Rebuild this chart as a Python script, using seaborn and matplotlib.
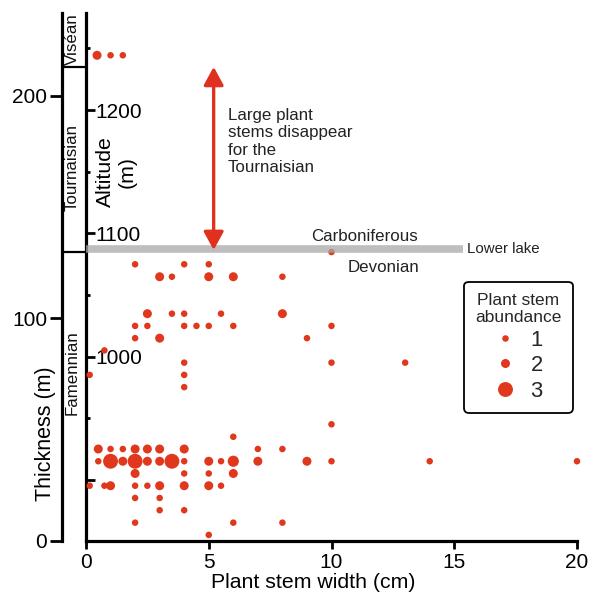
import numpy as np
import pandas as pd
import matplotlib
matplotlib.use("Agg")
import matplotlib.pyplot as plt
import seaborn as sns
from matplotlib.lines import Line2D

# ---------------- data ----------------
# one line per stratigraphic level: stem widths (cm), thickness (m), abundance class
stem_width = (
    [0.45, 1, 1.5] +
    [10] +
    [2, 4, 5] +
    [3, 3.5, 5, 6, 8] +
    [2.5, 3.5, 4, 5.5, 8] +
    [2, 2.5, 4, 4.5, 5, 6, 10] +
    [2, 3, 9] +
    [0.75] +
    [4, 10, 13] +
    [0.15, 4] +
    [4] +
    [10] +
    [6] +
    [0.5, 1, 1.5, 2, 2.5, 3, 4, 7, 8] +
    [0.5, 1, 1.5, 2, 2.5, 3, 3.5, 4, 5, 5.5, 6, 7, 9, 10, 14, 20] +
    [2, 4, 5, 6] +
    [0.15, 0.75, 1, 2, 2.5, 3, 4, 5, 5.5] +
    [2, 3] +
    [3, 4] +
    [2, 6, 8] +
    [5]
)
thickness = (
    [218.1] * 3 +
    [129.7] * 1 +
    [124.2] * 3 +
    [118.6] * 5 +
    [102.0] * 5 +
    [96.5] * 7 +
    [91.0] * 3 +
    [85.5] * 1 +
    [80.0] * 3 +
    [74.5] * 2 +
    [69.0] * 1 +
    [52.3] * 1 +
    [46.7] * 1 +
    [41.2] * 9 +
    [35.7] * 16 +
    [30.2] * 4 +
    [24.7] * 9 +
    [19.2] * 2 +
    [13.7] * 2 +
    [8.1] * 3 +
    [2.6] * 1
)
abundance = (
    [2, 1, 1] +
    [1] +
    [1, 1, 1] +
    [2, 1, 2, 2, 1] +
    [2, 1, 1, 1, 2] +
    [1, 1, 1, 1, 1, 1, 1] +
    [1, 2, 1] +
    [1] +
    [1, 1, 1] +
    [1, 1] +
    [1] +
    [1] +
    [1] +
    [2, 1, 1, 2, 2, 2, 2, 1, 1] +
    [1, 3, 2, 3, 2, 2, 3, 1, 2, 1, 2.5, 2, 2, 1, 1, 1] +
    [2, 1, 1, 2] +
    [1, 1, 2, 1, 1, 2, 2, 2, 1] +
    [1, 1] +
    [1, 1] +
    [1, 1, 1] +
    [1]
)

x_ticks = [0, 5, 10, 15, 20]
thickness_ticks = [0, 100, 200]
altitude_major = [900, 1000, 1100, 1200]
altitude_labels = ["", "1000", "1100", "1200"]
altitude_minor = [950, 1050, 1150, 1250]
legend_levels = [1, 2, 3]

# stratigraphic boundaries (thickness, m)
visean_base = 212.9
carboniferous_base = 129.7
lower_lake = 130.9
lower_lake_end = 15.35  # cm axis extent of the lake bar

# ---------------- styling ----------------
sns.set_theme(style="white")
plt.rcParams['font.family'] = ['Liberation Sans', 'DejaVu Sans']

RED = "#e0381c"
size_map = {1: 22, 2: 42, 2.5: 65, 3: 115}

W, H = 591, 595
fig = plt.figure(figsize=(W / 100, H / 100), dpi=100)
L, R, B, T = 86, 577, 540.7, 13
ax = fig.add_axes([L / W, 1 - B / H, (R - L) / W, (B - T) / H])


def fpx(x, y):
    """figure-pixel (top-left origin) -> figure fraction"""
    return x / W, 1 - y / H


df = pd.DataFrame({"width": stem_width, "thickness": thickness,
                   "abundance": abundance})
sns.scatterplot(data=df, x="width", y="thickness", size="abundance",
                sizes=size_map, color=RED, linewidth=0, legend=False,
                ax=ax, zorder=3, clip_on=False)

ax.set_xlim(0, 20)
ax.set_ylim(0, 237.1)
for s in ["top", "right", "left"]:
    ax.spines[s].set_visible(False)
ax.spines["bottom"].set_linewidth(2.3)
ax.spines["bottom"].set_color("black")
ax.set_xticks(x_ticks)
ax.tick_params(axis="x", direction="out", length=6, width=2, labelsize=15,
               pad=2.5, colors="black", bottom=True)
ax.tick_params(axis="y", left=False, labelleft=False)
ax.set_xlabel("Plant stem width (cm)", fontsize=15.3, color="black")
ax.xaxis.set_label_coords((313.3 - L) / (R - L), (B - 573) / (B - T))
ax.set_ylabel("")

# altitude axis (on the plot's left edge, labels inside)
t0, k = 82.66, 1.8046


def t2a(t):
    return 1000 + (np.asarray(t) - t0) * k


def a2t(a):
    return t0 + (np.asarray(a) - 1000) / k


alt = ax.secondary_yaxis(0, functions=(t2a, a2t))
alt.set_alignment("right")
alt.spines["right"].set_linewidth(2.3)
alt.spines["right"].set_color("black")
alt.set_ticks(altitude_major, labels=altitude_labels)
alt.set_ticks(altitude_minor, minor=True)
alt.tick_params(axis="y", which="major", direction="out", length=6.5,
                width=2, labelsize=15, pad=0.5, colors="black")
alt.tick_params(axis="y", which="minor", direction="out", length=3.2,
                width=2, colors="black")

# thickness axis (outer left)
col_x = (62 - L) / (R - L)
thick = ax.secondary_yaxis(col_x, functions=(lambda t: t, lambda t: t))
thick.spines["left"].set_linewidth(2.3)
thick.spines["left"].set_color("black")
thick.set_ticks(thickness_ticks)
thick.tick_params(axis="y", direction="out", length=8.6, width=2,
                  labelsize=15, pad=2, colors="black")

# stage column
ytr = ax.get_yaxis_transform()
for yb in (visean_base, carboniferous_base):
    ax.plot([col_x, 0], [yb, yb], transform=ytr, color="black", lw=1.6,
            clip_on=False, solid_capstyle="butt")
for name, (px_, py_) in zip(["Viséan", "Tournaisian", "Famennian"],
                            [(72.5, 39), (72.5, 167.5), (72.5, 372.5)]):
    fig.text(*fpx(px_, py_), name, rotation=90, ha="center", va="center",
             fontsize=12.2, color="#111111")

# axis titles
fig.text(*fpx(46, 434), "Thickness (m)", rotation=90, ha="center",
         va="center", fontsize=15.5, color="black")
fig.text(*fpx(116, 172), "Altitude\n(m)", rotation=90, ha="center",
         va="center", fontsize=15.3, multialignment="center", color="black")

# lower lake band
ax.plot([0, lower_lake_end], [lower_lake, lower_lake], color="#a8a8a8",
        alpha=0.75, lw=5.5, solid_capstyle="butt", zorder=4)
ax.text(15.53, lower_lake, "Lower lake", fontsize=10.8, ha="left",
        va="center", color="#222222")
ax.text(9.19, 134.8, "Carboniferous", fontsize=12.2, ha="left",
        va="baseline", color="#222222")
ax.text(10.66, 120.6, "Devonian", fontsize=12.2, ha="left",
        va="baseline", color="#222222")

# arrow + note
ax.annotate("", xy=(5.2, 130.6), xytext=(5.2, visean_base),
            arrowprops=dict(arrowstyle="<|-|>,head_length=0.55,head_width=0.3",
                            mutation_scale=20, lw=2.4, color="#e0301e",
                            shrinkA=0, shrinkB=0), zorder=5)
ax.text(5.77, 194.4, "Large plant\nstems disappear\nfor the\nTournaisian",
        fontsize=12.2, ha="left", va="top", linespacing=1.2,
        color="#222222")

# legend
handles = [Line2D([], [], ls="none", marker="o", ms=np.sqrt(size_map[v]),
                  mfc=RED, mec="none") for v in legend_levels]
leg = ax.legend(handles, [str(v) for v in legend_levels],
                title="Plant stem\nabundance", title_fontsize=12.5,
                fontsize=15.8, loc="upper left",
                bbox_to_anchor=fpx(464.3, 282), bbox_transform=fig.transFigure,
                borderaxespad=0, frameon=True, fancybox=True,
                edgecolor="black", framealpha=1, handlelength=0.94,
                handletextpad=0.71, labelspacing=0.2, borderpad=0.5)
leg.get_frame().set_linewidth(1.3)
leg.get_title().set_multialignment("center")

fig.savefig("out.png", dpi=100)
